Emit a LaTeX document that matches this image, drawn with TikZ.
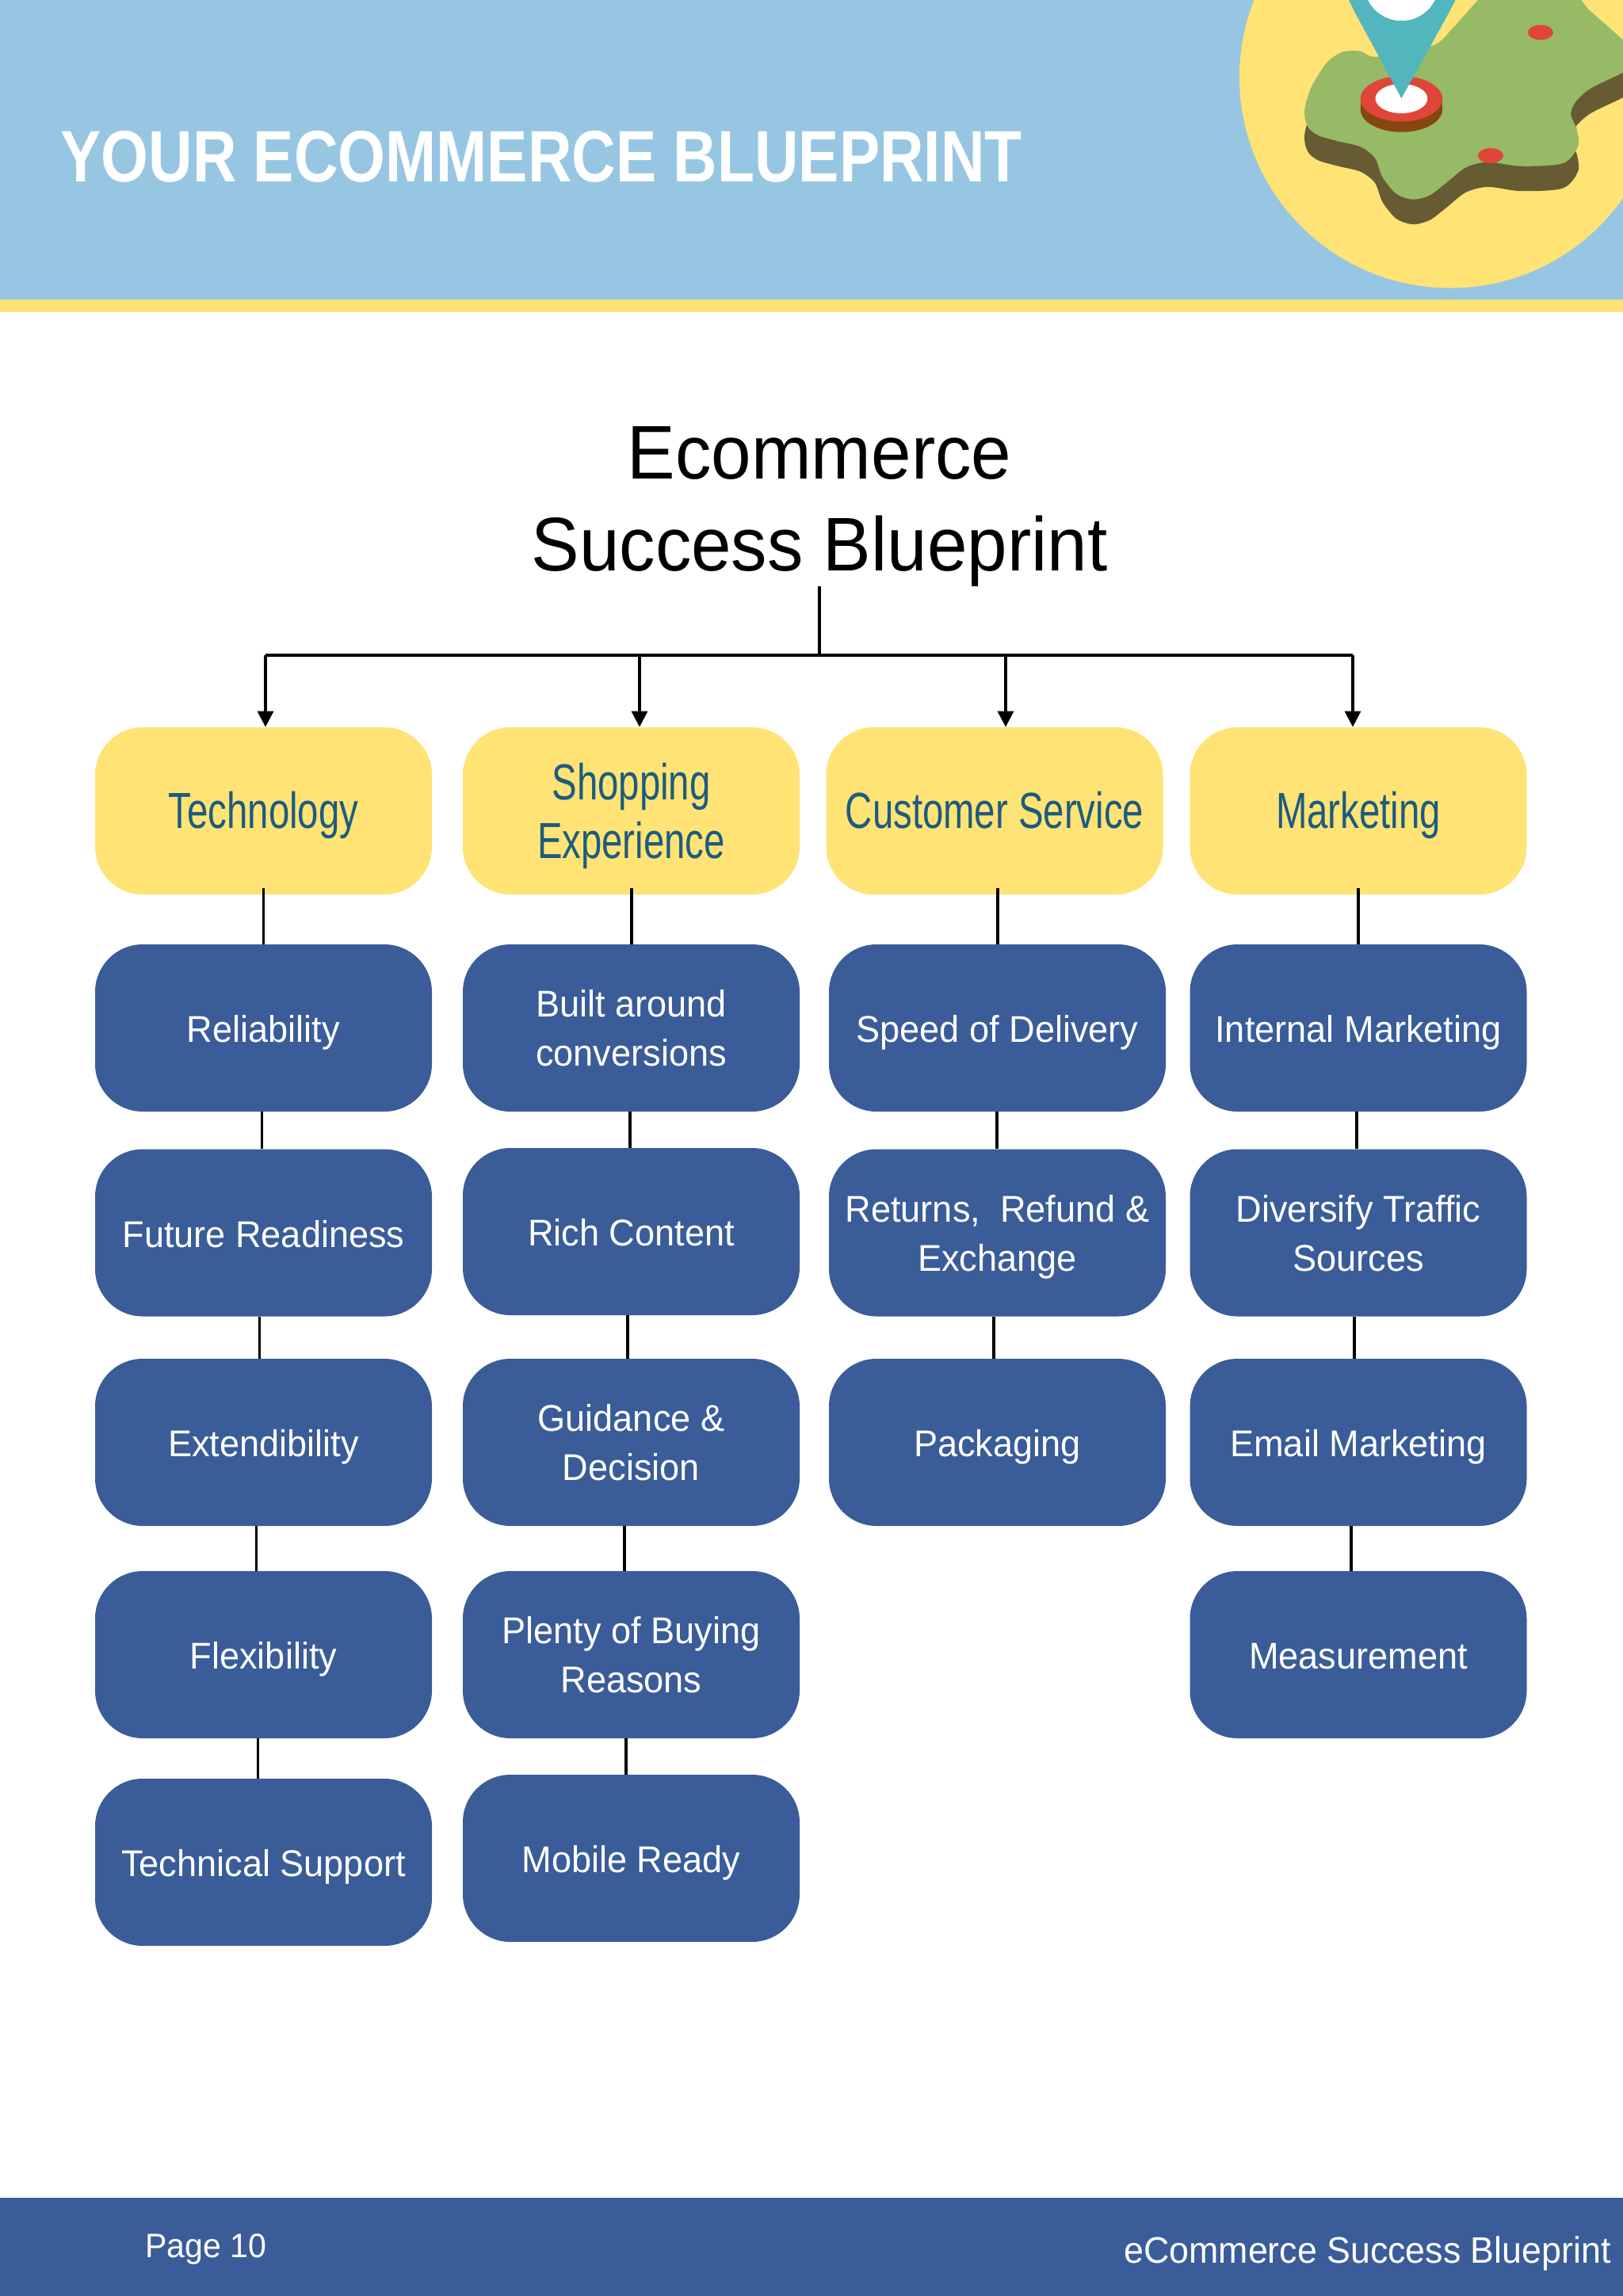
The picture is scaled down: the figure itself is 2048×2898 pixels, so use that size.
\documentclass[tikz,border=0pt]{standalone}
\usepackage{fontspec}
\setmainfont[FakeStretch=0.96]{Liberation Sans}
\newfontfamily\headfont[FakeStretch=0.836]{Liberation Sans}
\newfontfamily\capfont[FakeStretch=0.74]{Liberation Sans}
\newfontfamily\titlefont[FakeStretch=0.946]{Liberation Sans}
\definecolor{skyband}{HTML}{97C6E3}
\definecolor{sunband}{HTML}{FFE375}
\definecolor{navybox}{HTML}{3A5C99}
\definecolor{captext}{HTML}{1D5B7F}
\definecolor{landtop}{HTML}{97BA66}
\definecolor{landside}{HTML}{665B33}
\definecolor{pinred}{HTML}{E0453A}
\definecolor{pinteal}{HTML}{52B6BF}
\definecolor{pinbrown}{HTML}{85470F}
\tikzset{
  capbox/.style={rounded corners=30pt,fill=sunband,text=captext,align=center,inner sep=0pt,
    minimum width=212.5pt,minimum height=105.5pt,text depth=-2pt,font=\capfont\fontsize{32}{37}\selectfont},
  capone/.style={capbox,text depth=0pt,text height=21.7pt},
  itembox/.style={rounded corners=30pt,fill=navybox,text=white,align=center,inner sep=0pt,
    minimum width=212.5pt,minimum height=105.5pt,text depth=-1.5pt,font=\fontsize{23.5}{31}\selectfont},
  itemone/.style={itembox,text depth=0pt,text height=18.4pt},
  link/.style={line width=1.7pt,black},
  drop/.style={line width=1.7pt,black,-{Triangle[width=10pt,length=10pt]}}
}
\usetikzlibrary{arrows.meta}
\begin{document}
\begin{tikzpicture}[x=0.5pt,y=-0.5pt]
    \useasboundingbox (0,0) rectangle (2048,2898);
    \clip (0,0) rectangle (2048,2898);
    % header
    \fill[skyband] (0,0) rectangle (2048,377.5);
    \fill[sunband] (0,377.5) rectangle (2048,394);
    \fill[sunband] (1830,97.5) circle (266);
    \begin{scope}[shift={(1500,0)},scale=0.3495]
        \foreach \dy/\col in {90/landside,0/landtop}
            \fill[\col,yshift=-\dy*0.5pt] plot[smooth cycle,tension=0.5] coordinates {
                (420,385) (445,310) (500,225) (555,188) (620,185) (680,205) (880,165) (950,105) (1040,5) (1060,-10)
                (1380,-10) (1450,40) (1640,220) (1568,262) (1450,320) (1395,370) (1380,415) (1402,470) (1405,530)
                (1350,590) (1200,600) (1080,585) (1000,605) (930,660) (870,705) (810,720) (750,700)
                (700,640) (672,570) (620,530) (540,510) (470,490) (435,465) (420,430)};
        \fill[pinbrown] (768,395) ellipse (148 and 82);
        \fill[pinbrown] (620,357) rectangle (916,395);
        \fill[pinred] (768,357) ellipse (148 and 82);
        \fill[white] (768,356) ellipse (94 and 53);
        \fill[pinteal] (573,-10) -- (600,45) -- (768,355) -- (940,45) -- (968,-10) -- cycle;
        \fill[white] (768,-60) circle (135);
        \fill[pinred] (1270,117) ellipse (46 and 27);
        \fill[pinred] (1090,562) ellipse (46 and 27);
    \end{scope}
    \node[anchor=west,inner sep=0pt,text=white,font=\headfont\bfseries\fontsize{46}{50}\selectfont] (head) at (76,198) {YOUR ECOMMERCE BLUEPRINT};
    % title
    \node[align=center,inner sep=0pt,font=\titlefont\fontsize{48}{58}\selectfont] (title) at (1034,639) {Ecommerce\\Success Blueprint};
    % first column
    \node[capone] (t0) at (332.5,1023.5) {Technology};
    \node[itemone] (t1) at (332.5,1297.5) {Reliability};
    \node[itemone] (t2) at (332.5,1556) {Future Readiness};
    \node[itemone] (t3) at (332.5,1820.5) {Extendibility};
    \node[itemone] (t4) at (332.5,2088.5) {Flexibility};
    \node[itemone] (t5) at (332.5,2350.5) {Technical Support};
    % second column
    \node[capbox] (s0) at (796.5,1023.5) {Shopping\\Experience};
    \node[itembox] (s1) at (796.5,1297.5) {Built around\\conversions};
    \node[itemone] (s2) at (796.5,1554.5) {Rich Content};
    \node[itembox] (s3) at (796.5,1820.5) {Guidance \&\\Decision};
    \node[itembox] (s4) at (796.5,2088.5) {Plenty of Buying\\Reasons};
    \node[itemone] (s5) at (796.5,2345.5) {Mobile Ready};
    % third column
    \node[capone] (c0) at (1255,1023.5) {Customer Service};
    \node[itemone] (c1) at (1258.5,1297.5) {Speed of Delivery};
    \node[itembox] (c2) at (1258.5,1556) {Returns,\ \ Refund \&\\Exchange};
    \node[itemone] (c3) at (1258.5,1820.5) {Packaging};
    % fourth column
    \node[capone] (m0) at (1714,1023.5) {Marketing};
    \node[itemone] (m1) at (1714,1297.5) {Internal Marketing};
    \node[itembox] (m2) at (1714,1556) {Diversify Traffic\\Sources};
    \node[itemone] (m3) at (1714,1820.5) {Email Marketing};
    \node[itemone] (m4) at (1714,2088.5) {Measurement};
    % top connectors
    \coordinate (a0) at (335,827);
    \coordinate (a1) at (807,827);
    \coordinate (a2) at (1269,827);
    \coordinate (a3) at (1707,827);
    \draw[link] (title.south) -- (title.south |- a0);
    \draw[link] (a0) -- (a3);
    \draw[drop] (a0) -- (a0 |- t0.north);
    \draw[drop] (a1) -- (a1 |- s0.north);
    \draw[drop] (a2) -- (a2 |- c0.north);
    \draw[drop] (a3) -- (a3 |- m0.north);
    % column connectors
    \draw[link] ([shift={(0,-8)}]t0.south) -- (t1.north);
    \draw[link] ([shift={(-2,0)}]t1.south) -- ([shift={(-2,0)}]t2.north);
    \draw[link] ([shift={(-5,0)}]t2.south) -- ([shift={(-5,0)}]t3.north);
    \draw[link] ([shift={(-9,0)}]t3.south) -- ([shift={(-9,0)}]t4.north);
    \draw[link] ([shift={(-7,0)}]t4.south) -- ([shift={(-7,0)}]t5.north);
    \draw[link] ([shift={(0.5,-8)}]s0.south) -- ([shift={(0.5,0)}]s1.north);
    \draw[link] ([shift={(-1.5,0)}]s1.south) -- ([shift={(-1.5,0)}]s2.north);
    \draw[link] ([shift={(-4.5,0)}]s2.south) -- ([shift={(-4.5,0)}]s3.north);
    \draw[link] ([shift={(-8.5,0)}]s3.south) -- ([shift={(-8.5,0)}]s4.north);
    \draw[link] ([shift={(-6.5,0)}]s4.south) -- ([shift={(-6.5,0)}]s5.north);
    \draw[link] ([shift={(4,-8)}]c0.south) -- ([shift={(0.5,0)}]c1.north);
    \draw[link] ([shift={(-0.5,0)}]c1.south) -- ([shift={(-0.5,0)}]c2.north);
    \draw[link] ([shift={(-4.5,0)}]c2.south) -- ([shift={(-4.5,0)}]c3.north);
    \draw[link] ([shift={(0,-8)}]m0.south) -- (m1.north);
    \draw[link] ([shift={(-2,0)}]m1.south) -- ([shift={(-2,0)}]m2.north);
    \draw[link] ([shift={(-5,0)}]m2.south) -- ([shift={(-5,0)}]m3.north);
    \draw[link] ([shift={(-9,0)}]m3.south) -- ([shift={(-9,0)}]m4.north);
    % footer
    \fill[navybox] (0,2774) rectangle (2048,2898);
    \node[anchor=base west,inner sep=0pt,text=white,font=\fontsize{21.4}{24}\selectfont] (page) at (183,2849) {Page 10};
    \node[anchor=base east,inner sep=0pt,text=white,font=\fontsize{23.3}{28}\selectfont] (foot) at (2033,2856) {eCommerce Success Blueprint};
\end{tikzpicture}
\end{document}
